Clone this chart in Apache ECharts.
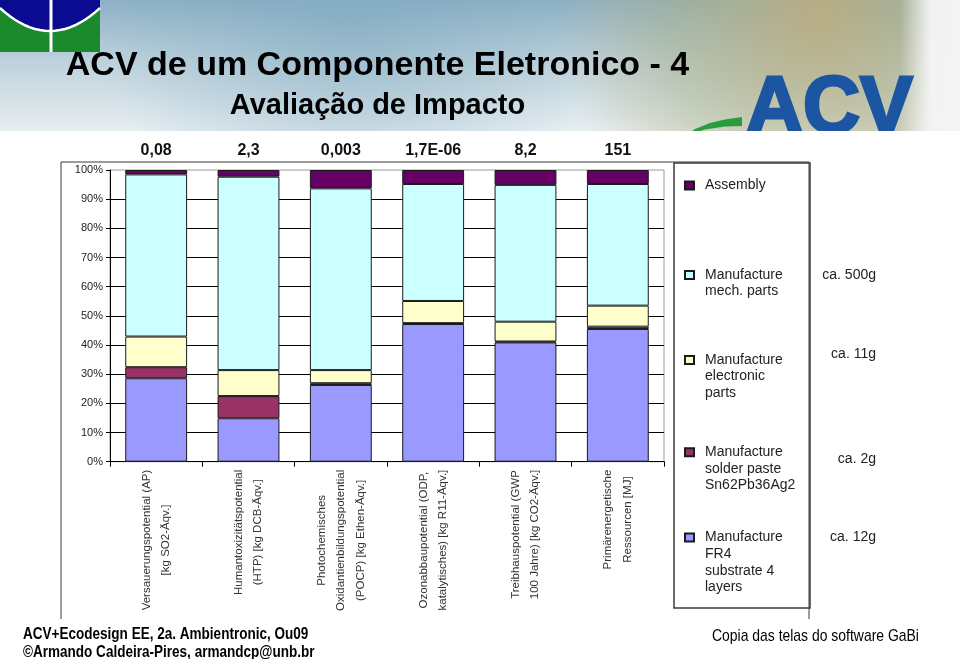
<!DOCTYPE html>
<html><head><meta charset="utf-8">
<script src="https://cdn.jsdelivr.net/npm/echarts@6/dist/echarts.min.js"></script>
<style>html,body{margin:0;padding:0;background:#fff}#c{width:960px;height:659px}</style>
</head><body><div id="c"></div>
<script>
// ---------- data ----------
const categories = [
  'Versauerungspotential (AP)\n[kg SO2-Äqv.]',
  'Humantoxizitätspotential\n(HTP) [kg DCB-Äqv.]',
  'Photochemisches\nOxidantienbildungspotential\n(POCP) [kg Ethen-Äqv.]',
  'Ozonabbaupotential (ODP,\nkatalytisches) [kg R11-Äqv.]',
  'Treibhauspotential (GWP\n100 Jahre) [kg CO2-Äqv.]',
  'Primärenergetische\nRessourcen [MJ]'
];
const totals = ['0,08', '2,3', '0,003', '1,7E-06', '8,2', '151'];
const fr4Substrate   = [28.6, 14.9, 26.3, 47.2, 40.9, 45.5];
const solderPaste    = [3.8, 7.6, 0.6, 0.3, 0.3, 0.8];
const electronicParts= [10.5, 8.9, 4.5, 7.6, 6.8, 7.2];
const mechParts      = [55.6, 66.3, 62.3, 40.1, 46.9, 41.7];
const assembly       = [1.5, 2.3, 6.3, 4.8, 5.1, 4.8];
const seriesNames = [
  'Manufacture\nFR4\nsubstrate 4\nlayers',
  'Manufacture\nsolder paste\nSn62Pb36Ag2',
  'Manufacture\nelectronic\nparts',
  'Manufacture\nmech. parts',
  'Assembly'
];
const masses = ['ca. 500g', 'ca. 11g', 'ca. 2g', 'ca. 12g'];

// ---------- styling ----------
const FONT = '"Liberation Sans", Arial, sans-serif';
const colors = ['#9999ff', '#993366', '#ffffcc', '#ccffff', '#660066'];
const seriesData = [fr4Substrate, solderPaste, electronicParts, mechParts, assembly];
const LH = 16.6;
const legendCenters = [185.5, 275, 360, 452.3, 537.5]; // Assembly, mech, elec, solder, FR4
const massY = [275.5, 354.5, 459, 537.5];

const chart = echarts.init(document.getElementById('c'), null, {renderer: 'canvas'});

const series = seriesData.map((d, i) => {
  const s = {
    name: seriesNames[i], type: 'bar', stack: 'total', data: d,
    barCategoryGap: '33%',
    itemStyle: {color: colors[i], borderColor: '#1a1a1a', borderWidth: 1},
    emphasis: {disabled: true}
  };
  if (i === 4) {
    s.label = {
      show: true, position: 'top', distance: 11,
      formatter: p => totals[p.dataIndex],
      fontFamily: FONT, fontSize: 16, fontWeight: 'bold', color: '#111'
    };
  }
  return s;
});

const legendOrder = [4, 3, 2, 1, 0];
const legends = legendOrder.map((si, k) => {
  const name = seriesNames[si];
  const n = name.split('\n').length;
  return {
    data: [name], orient: 'vertical', left: 684,
    top: legendCenters[k] - (2 * n - 1) * LH / 2,
    padding: 0, itemWidth: 9, itemHeight: 8, itemGap: 0, icon: 'rect',
    selectedMode: false,
    formatter: nm => '\n'.repeat(n - 1) + nm,
    textStyle: {fontFamily: FONT, fontSize: 14, lineHeight: LH, color: '#222', padding: [0, 0, 0, 6]}
  };
});

// logo curve (decoration)
const curve = [];
for (let t = 0; t <= 1.0001; t += 0.05) curve.push([100 * t, 8 + 92 * t * (1 - t)]);
const bluePoly = [[0, 0], [100, 0]].concat(curve.slice().reverse());

const narrowText = (text, x, y, size, bold, align) => ({
  type: 'text', z: 102, x: x, y: y, scaleX: 0.82,
  style: {text: text, x: 0, y: 0, fontSize: size, fontWeight: bold ? 'bold' : 'normal', fontFamily: FONT,
    fill: '#000', align: align || 'left', verticalAlign: 'middle'}
});

const graphics = [
  // sky band
  {type: 'rect', z: -10, shape: {x: 0, y: 0, width: 960, height: 132},
   style: {fill: new echarts.graphic.LinearGradient(0, 0, 0, 1, [
     {offset: 0, color: '#8db1c6'}, {offset: 0.45, color: '#bcd1db'}, {offset: 1, color: '#e8eff2'}])}},
  {type: 'rect', z: -10, shape: {x: 0, y: 0, width: 960, height: 132},
   style: {fill: {type: 'radial', x: 820, y: 15, r: 260, global: true, colorStops: [
     {offset: 0, color: 'rgba(190,172,124,0.9)'}, {offset: 0.6, color: 'rgba(170,175,130,0.45)'}, {offset: 1, color: 'rgba(190,172,124,0)'}]}}},
  {type: 'rect', z: -10, shape: {x: 0, y: 0, width: 700, height: 132},
   style: {fill: {type: 'radial', x: 350, y: 20, r: 250, global: true, colorStops: [
     {offset: 0, color: 'rgba(120,165,190,0.5)'}, {offset: 1, color: 'rgba(120,165,190,0)'}]}}},
  {type: 'rect', z: -10, shape: {x: 900, y: 0, width: 60, height: 132},
   style: {fill: new echarts.graphic.LinearGradient(0, 0, 1, 0, [
     {offset: 0, color: 'rgba(245,245,245,0)'}, {offset: 0.5, color: 'rgba(245,245,245,0.95)'}, {offset: 1, color: '#f4f4f4'}])}},
  // UnB logo
  {type: 'rect', z: -9, shape: {x: 0, y: 0, width: 100, height: 52}, style: {fill: '#1b8a2c'}},
  {type: 'polygon', z: -9, shape: {points: bluePoly}, style: {fill: '#0b0b92'}},
  {type: 'polyline', z: -9, shape: {points: curve}, style: {fill: null, stroke: '#fff', lineWidth: 2.5}},
  {type: 'rect', z: -9, shape: {x: 49.5, y: 0, width: 3, height: 52}, style: {fill: '#fff'}},
  // ACV logo
  {type: 'polygon', z: -9, shape: {points: [[683, 137], [695, 129], [710, 123], [725, 119.5], [742, 117], [742, 126], [725, 126.5], [705, 129.5]]},
   style: {fill: '#2a9c3b'}},
  {type: 'text', z: -9, style: {text: 'ACV', x: 746, y: 71, fontSize: 79, fontWeight: 'bold', fontFamily: FONT,
    fill: '#1c56a3', stroke: '#1c56a3', lineWidth: 3, align: 'left', verticalAlign: 'top'}},
  // white page body
  {type: 'rect', z: -8, shape: {x: 0, y: 131, width: 960, height: 528}, style: {fill: '#ffffff'}},
  // titles
  {type: 'text', z: 10, style: {text: 'ACV de um Componente Eletronico - 4', x: 377.5, y: 66,
    fontSize: 34, fontWeight: 'bold', fontFamily: FONT, fill: '#000', align: 'center', verticalAlign: 'middle'}},
  {type: 'text', z: 10, style: {text: 'Avaliação de Impacto', x: 377.5, y: 106,
    fontSize: 29, fontWeight: 'bold', fontFamily: FONT, fill: '#000', align: 'center', verticalAlign: 'middle'}},
  // legend box
  {type: 'rect', z: -5, shape: {x: 674, y: 163, width: 136, height: 445},
   style: {fill: '#fff', stroke: '#3a3a3a', lineWidth: 1.5}},
  // bottom cover (clips rotated labels)
  {type: 'rect', z: 100, shape: {x: 0, y: 616, width: 960, height: 43}, style: {fill: '#fff'}},
  {type: 'polyline', z: 101, shape: {points: [[61, 619], [61, 162], [809, 162], [809, 619]]},
   style: {fill: null, stroke: '#3a3a3a', lineWidth: 1}},
  // footer
  narrowText('ACV+Ecodesign EE, 2a. Ambientronic, Ou09', 23, 634, 16.5, true),
  narrowText('©Armando Caldeira-Pires, armandcp@unb.br', 23, 652, 16.5, true),
  narrowText('Copia das telas do software GaBi', 712, 636, 17, false)
];
masses.forEach((m, i) => graphics.push({type: 'text', z: 10, style: {text: m, x: 876, y: massY[i],
  fontSize: 14, fontFamily: FONT, fill: '#222', align: 'right', verticalAlign: 'middle'}}));

chart.setOption({
  animation: false,
  backgroundColor: '#ffffff',
  grid: {left: 110, top: 170, width: 554, height: 291.7, show: true, borderColor: '#9a9a9a', borderWidth: 1,
    backgroundColor: 'rgba(0,0,0,0)'},
  legend: legends,
  xAxis: {
    type: 'category', data: categories,
    axisLine: {lineStyle: {color: '#000', width: 1}},
    axisTick: {show: true, length: 5, lineStyle: {color: '#000'}},
    axisLabel: {
      interval: 0, rotate: 90, margin: 8,
      formatter: v => v.split('\n').map(s => '{c|' + s + '}').join('\n'),
      rich: {c: {align: 'center', fontFamily: FONT, fontSize: 11.5, lineHeight: 19.5, color: '#333'}}
    }
  },
  yAxis: {
    type: 'value', min: 0, max: 100, interval: 10,
    axisLine: {show: true, lineStyle: {color: '#000', width: 1}},
    axisTick: {show: true, length: 4, lineStyle: {color: '#000'}},
    axisLabel: {formatter: '{value}%', fontFamily: FONT, fontSize: 11, color: '#222', margin: 7},
    splitLine: {show: true, showMaxLine: false, lineStyle: {color: '#000', width: 1}}
  },
  series: series,
  graphic: graphics
});
</script>
</body></html>
